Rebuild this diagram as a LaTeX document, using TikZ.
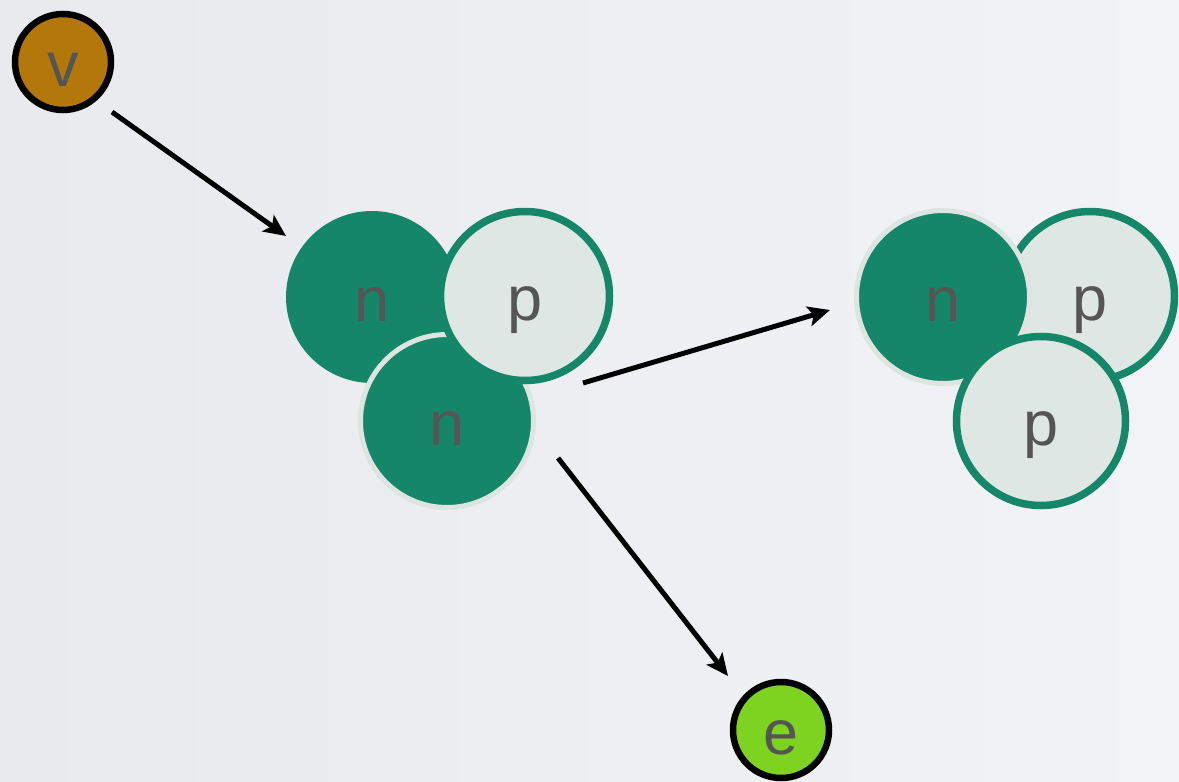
\documentclass[tikz,border=0pt]{standalone}
\usepackage{fontspec}
\setmainfont{Liberation Sans}
\usetikzlibrary{arrows.meta}
\definecolor{bgleft}{HTML}{E9EAEE}
\definecolor{bgright}{HTML}{F2F3F6}
\definecolor{nucgreen}{HTML}{168669}
\definecolor{protfill}{HTML}{DFE7E4}
\definecolor{halo}{HTML}{DCE5E2}
\definecolor{vfill}{HTML}{B4780A}
\definecolor{efill}{HTML}{7ED321}
\definecolor{labelgray}{HTML}{555555}
\tikzset{
  ball/.style={circle, inner sep=0pt, text=labelgray,
    font=\fontsize{63}{63}\selectfont, text height=49pt, text depth=0pt},
  neutron/.style={ball, fill=nucgreen, minimum size=172pt},
  neutronhalo/.style={ball, fill=nucgreen, draw=halo, line width=5pt, minimum size=173pt},
  proton/.style={ball, fill=protfill, draw=nucgreen, line width=7.5pt, minimum size=169pt},
  particle/.style={ball, draw=black, line width=6.5pt, minimum size=96pt},
  arr/.style={line width=5pt, -{Stealth[length=22pt,width=20pt,inset=5pt]}}
}
\begin{document}
\begin{tikzpicture}[x=1pt,y=-1pt]
  % background
  \fill[left color=bgleft, right color=bgright] (0,0) rectangle (1179,782);
  \useasboundingbox (0,0) rectangle (1179,782);

  % incoming particle
  \node[particle, fill=vfill] (v) at (63,62) {v};

  % left cluster: n, n, p
  \node[neutron] (n1) at (372,297) {n};
  \node[neutronhalo] (n2) at (447,421) {n};
  \node[proton] (p1) at (525,296) {p};

  % right cluster: n, p, p
  \node[proton] (p2) at (1090,296) {p};
  \node[neutronhalo] (n3) at (943,297) {n};
  \node[proton] (p3) at (1041,421) {p};

  % outgoing particle
  \node[particle, fill=efill] (e) at (781,730) {e};

  % arrow anchors beside the nodes
  \coordinate (outV) at (112,112);
  \coordinate (inA) at (286,236);
  \coordinate (outA) at (583,383);
  \coordinate (inB) at (830,310);
  \coordinate (outE) at (558,458);
  \coordinate (inE) at (728,676);

  % connectors
  \draw[arr] (outV) -- (inA);
  \draw[arr] (outA) -- (inB);
  \draw[arr] (outE) -- (inE);
\end{tikzpicture}
\end{document}
